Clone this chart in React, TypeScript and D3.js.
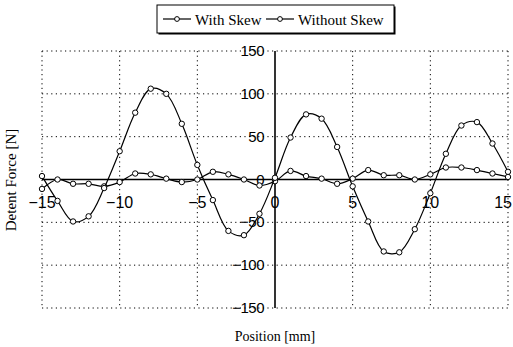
import React from 'react';
import * as d3 from 'd3';

// position in mm, one reading per mm
const positions = d3.range(-15, 16);
const withoutSkew = [4, -25, -49, -43, -10, 33, 78, 106, 100, 65, 17, -24, -60, -65, -40, 2, 49, 76, 71, 38, -8, -49, -84, -85, -58, -16, 30, 63, 67, 42, 9];
const withSkew = [-11, 0, -5, -5, -8, -3, 7, 6, 1, -3, 0, 9, 6, 0, -7, -2, 10, 4, 1, -5, 1, 11, 5, 5, 0, 6, 14, 14, 11, 7, 3];
const xTicks = [-15, -10, -5, 0, 5, 10, 15];
const yTicks = [-150, -100, -50, 0, 50, 100, 150];
const seriesNames = ['With Skew', 'Without Skew'];

const W = 513, H = 347;

const App = () => {
  const x = d3.scaleLinear().domain([-15, 15]).range([42, 508]);
  const y = d3.scaleLinear().domain([-150, 150]).range([308, 51]);

  const line = d3.line<[number, number]>()
    .x(d => x(d[0]))
    .y(d => y(d[1]))
    .curve(d3.curveCatmullRom.alpha(0.5));

  const series = [withSkew, withoutSkew].map(vals => positions.map((p, i) => [p, vals[i]] as [number, number]));

  const serif = '"Liberation Serif", "Times New Roman", serif';
  const sans = '"Liberation Sans", Arial, sans-serif';
  const fmt = (t: number) => (t < 0 ? '\u2212' + Math.abs(t) : String(t));

  return (
    <svg width={W} height={H} style={{ position: 'absolute', left: 0, top: 0, background: '#fff' }}>
      {/* dotted grid */}
      <g stroke="#000" strokeWidth={1} strokeDasharray="1.2,3.4">
        {yTicks.filter(t => t !== 0).map(t => (
          <line key={'h' + t} x1={x(-15)} x2={x(15)} y1={y(t)} y2={y(t)} />
        ))}
        {xTicks.filter(t => t !== 0).map(t => (
          <line key={'v' + t} x1={x(t)} x2={x(t)} y1={y(150)} y2={y(-150)} />
        ))}
      </g>

      {/* axes through origin */}
      <line x1={x(-15)} x2={x(15)} y1={y(0)} y2={y(0)} stroke="#000" strokeWidth={1.6} />
      <line x1={x(0)} x2={x(0)} y1={y(150)} y2={y(-150)} stroke="#000" strokeWidth={1.6} />

      {/* tick labels */}
      <g fontFamily={sans} fontSize={16} fill="#000">
        {xTicks.map(t => (
          <text key={'xt' + t} x={t === 15 ? W - 1 : x(t)} y={y(0) + 28}
            textAnchor={t === 15 ? 'end' : 'middle'}>{fmt(t)}</text>
        ))}
      </g>
      <g fontFamily={sans} fontSize={15} textAnchor="end" fill="#000" letterSpacing={-0.5}>
        {yTicks.map(t => (
          <text key={'yt' + t} x={x(0) - 11} y={y(t) + 5}>{fmt(t)}</text>
        ))}
      </g>

      {/* series */}
      {series.map((pts, k) => (
        <g key={'s' + k}>
          <path d={line(pts) || ''} fill="none" stroke="#000" strokeWidth={1.2} />
          {pts.map((d, i) => (
            <circle key={i} cx={x(d[0])} cy={y(d[1])} r={2.7} fill="#fff" stroke="#000" strokeWidth={1} />
          ))}
        </g>
      ))}

      {/* axis titles */}
      <text x={275} y={341} textAnchor="middle" fontFamily={serif} fontSize={14}>Position [mm]</text>
      <text transform="translate(16,180) rotate(-90)" textAnchor="middle" fontFamily={serif} fontSize={15}>Detent Force [N]</text>

      {/* legend */}
      <rect x={158.5} y={6.5} width={237} height={28} fill="#000" />
      <rect x={157} y={5} width={237} height={28} fill="#fff" stroke="#000" strokeWidth={1} />
      {seriesNames.map((name, i) => {
        const lx = i === 0 ? 163 : 266;
        return (
          <g key={name}>
            <line x1={lx} x2={lx + 28} y1={19} y2={19} stroke="#000" strokeWidth={1.2} />
            <circle cx={lx + 14} cy={19} r={2.4} fill="#fff" stroke="#000" strokeWidth={1} />
            <text x={lx + 32} y={24.5} fontFamily={serif} fontSize={15}>{name}</text>
          </g>
        );
      })}
    </svg>
  );
};

export default App;
